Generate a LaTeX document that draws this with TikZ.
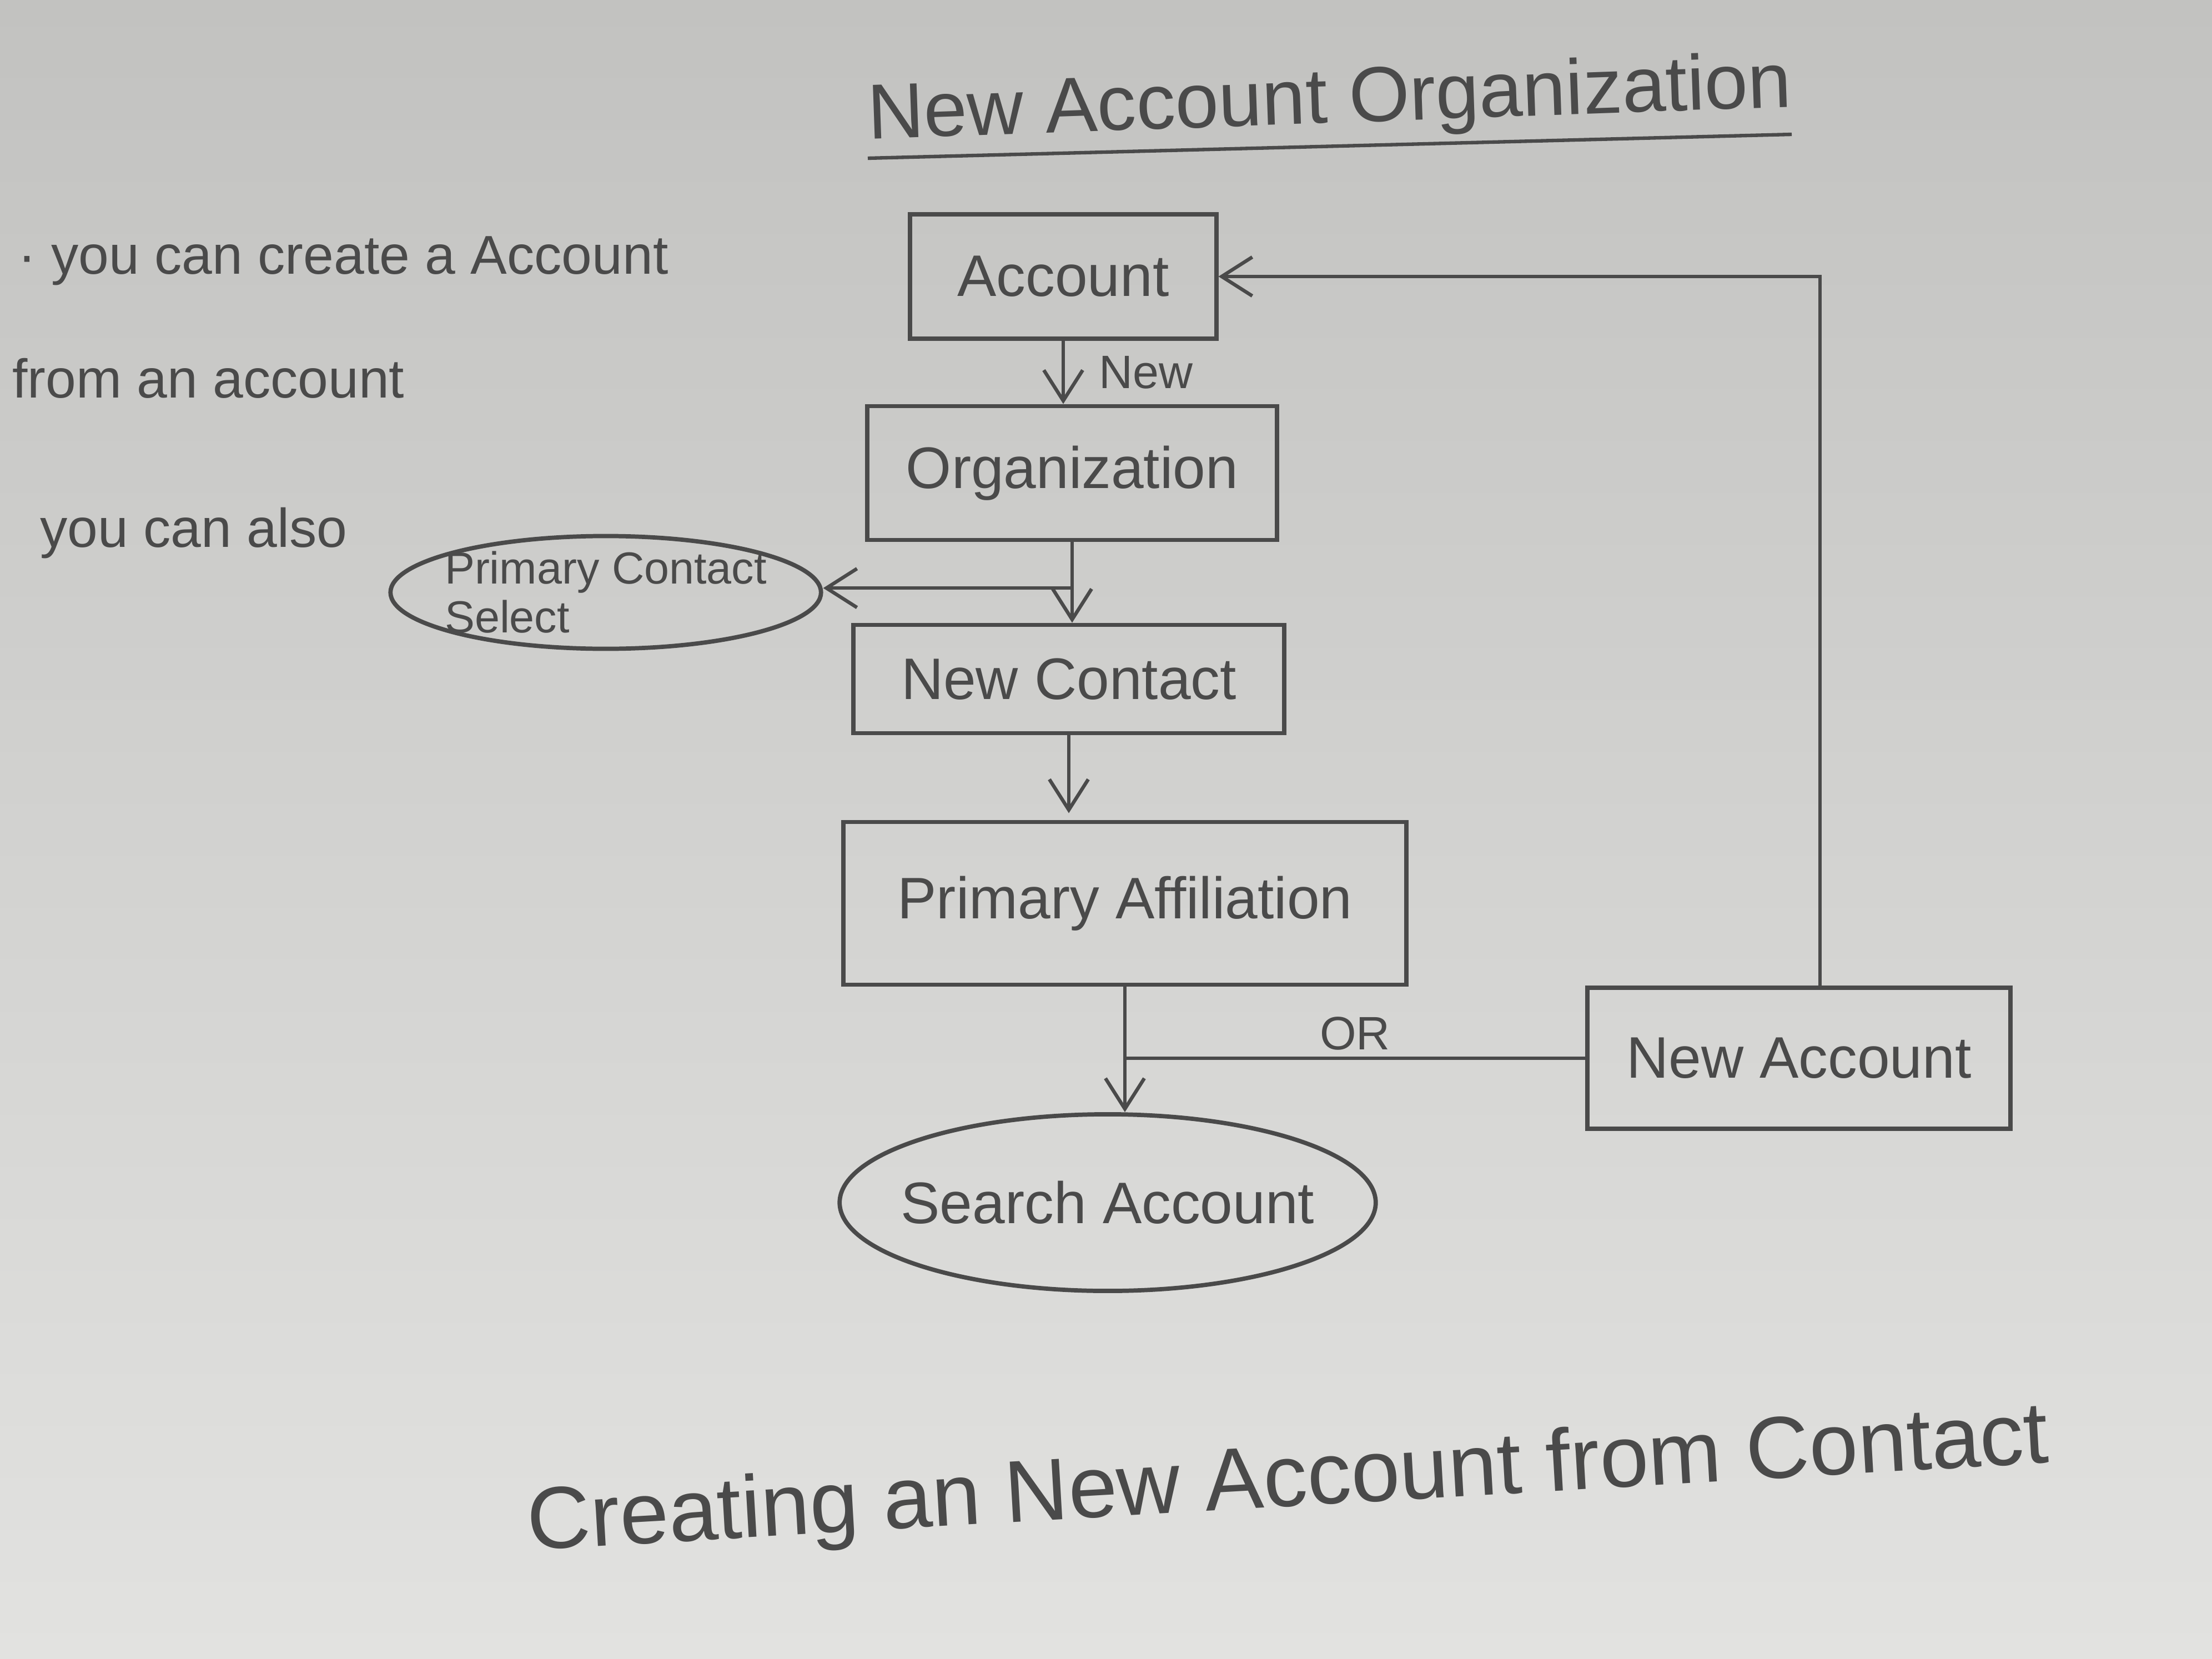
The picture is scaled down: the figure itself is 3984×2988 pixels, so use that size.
\documentclass[tikz,border=0pt]{standalone}
\usepackage{fontspec}
\setmainfont{Liberation Sans}
\usetikzlibrary{arrows.meta,shapes.geometric,calc}
\definecolor{pencil}{HTML}{4A4A4A}
\definecolor{papertop}{HTML}{C2C2C0}
\definecolor{paperbot}{HTML}{E2E2E0}
\begin{document}
\begin{tikzpicture}[x=0.01cm,y=-0.01cm,
  every node/.style={text=pencil},
  pbox/.style={draw=pencil, line width=2.2pt, rectangle, inner sep=0pt, font=\fontsize{30}{36}\selectfont},
  pell/.style={draw=pencil, line width=2.2pt, ellipse, inner sep=-0.35cm, font=\fontsize{30}{36}\selectfont},
  conn/.style={draw=pencil, line width=1.8pt},
  arr/.style={conn, -{Straight Barb[length=0.55cm, width=0.7cm, line width=1.8pt]}},
  note/.style={anchor=west, font=\fontsize{28}{34}\selectfont},
  lbl/.style={font=\fontsize{24}{28}\selectfont}
]
\useasboundingbox (0,0) rectangle (3984,2988);
\shade[top color=papertop, bottom color=paperbot] (0,0) rectangle (3984,2988);

% title
\node[font=\fontsize{40}{48}\selectfont, rotate=2] (title) at (2395,185) {New Account Organization};
\draw[conn] (1563,285) -- (3227,242);

% notes
\node[note] (n1) at (20,470) {· you can create a Account};
\node[note] (n2) at (10,681) {from an account};
\node[note] (n3) at (60,960) {you can also};

% boxes
\node[pbox, minimum width=5.51cm, minimum height=2.24cm] (acc) at (1915,498) {Account};
\node[pbox, minimum width=7.37cm, minimum height=2.41cm] (org) at (1931,852) {Organization};
\node[pbox, minimum width=7.75cm, minimum height=1.95cm] (nc) at (1925,1223) {New Contact};
\node[pbox, minimum width=10.13cm, minimum height=2.93cm] (pa) at (2026,1627) {Primary Affiliation};
\node[pbox, minimum width=7.62cm, minimum height=2.54cm] (na) at (3240,1906) {New Account};
\node[pell, minimum width=7.75cm, minimum height=2.03cm, align=left, inner sep=-0.45cm, font=\fontsize{23}{25}\selectfont] (pcs) at (1091,1067) {Primary Contact\\Select};
\node[pell, minimum width=9.65cm, minimum height=3.18cm] (sa) at (1995,2166) {Search Account};

% connectors
\draw[arr] (acc.south) -- (acc.south |- org.north) node[midway, right, lbl, xshift=0.5cm] (newl) {New};
\draw[arr] (org.south) -- (org.south |- nc.north);
\coordinate (br) at ($(org.south)!0.57!(org.south |- nc.north)$);
\draw[arr] (br) -- (br -| pcs.east);
\draw[arr] (nc.south) -- ([yshift=0.12cm]nc.south |- pa.north);
\draw[arr] (pa.south) -- (pa.south |- sa.north);
\coordinate (orj) at (pa.south |- na.west);
\draw[conn] (orj) -- (na.west) node[midway, above, lbl] (orl) {OR};
\draw[arr] ([xshift=0.38cm]na.north) |- (acc.east);

% caption
\node[font=\fontsize{45}{54}\selectfont, rotate=3.3] (cap) at (2320,2672) {Creating an New Account from Contact};
\end{tikzpicture}
\end{document}
